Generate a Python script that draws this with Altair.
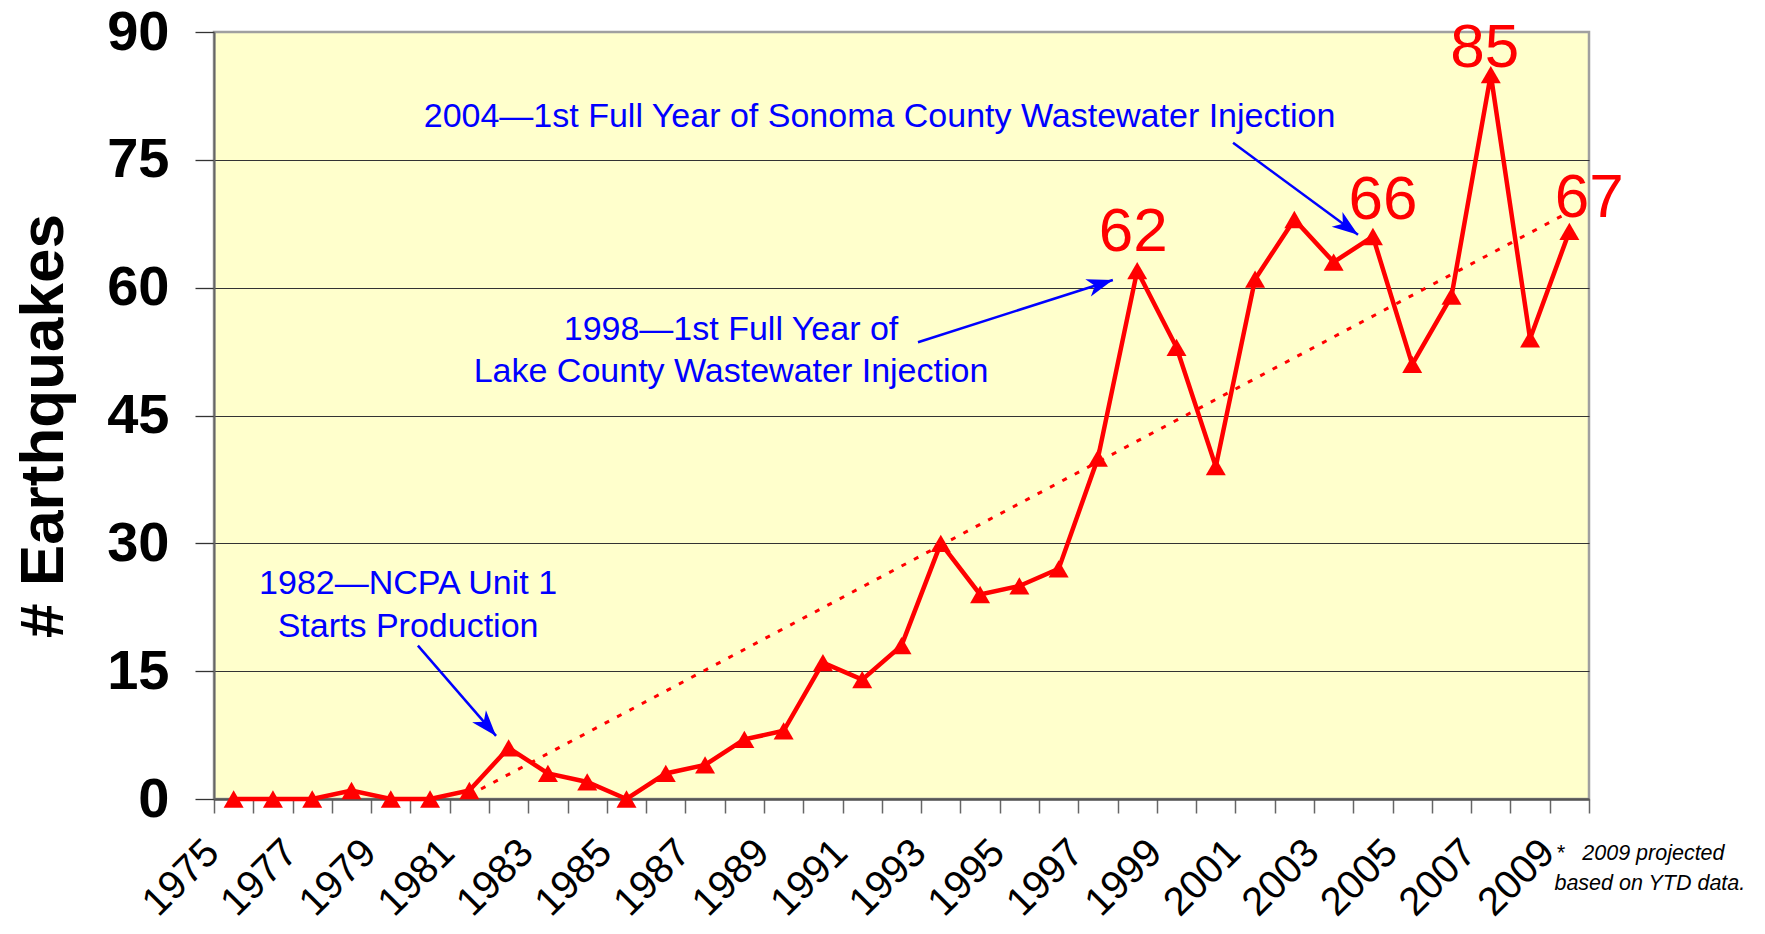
import math
import altair as alt
import pandas as pd

# ---------------- data ----------------
years = list(range(1975, 2010))
quakes = [0, 0, 0, 1, 0, 0, 1, 6, 3, 2, 0, 3, 4, 7, 8, 16, 14, 18, 30, 24,
          25, 27, 40, 62, 53, 39, 61, 68, 63, 66, 51, 59, 85, 54, 66.6]
labeled_years = [1998, 2004, 2007, 2009]
y_ticks = [0, 15, 30, 45, 60, 75, 90]

ann_text = [
    "2004\u20141st Full Year of Sonoma County Wastewater Injection",
    "1998\u20141st Full Year of",
    "Lake County Wastewater Injection",
    "1982\u2014NCPA Unit 1",
    "Starts Production",
]
foot_text = ["*\u00a0\u00a0\u00a02009 projected", "based on YTD data."]

# ---------------- layout (positions in data units / pixels) ----------------
W, H = 1375, 767
ann_x = [1991.44, 1987.66, 1987.66, 1979.44, 1979.44]
ann_y = [78.85, 53.86, 48.93, 24.06, 19.0]
arrow_x1 = [1979.69, 1992.42, 2000.44]
arrow_y1 = [18.0, 53.6, 77.0]
arrow_x2 = [1981.68, 1997.38, 2003.62]
arrow_y2 = [7.4, 60.9, 66.2]
foot_x = [2008.66, 2008.62]
foot_y = [-7.2, -10.7]
label_dx = [-4, 10, -6, 20]
label_dy = [-20, -18, -8, -14]

ppy = W / 35.0
ppu = H / 90.0
angles = []
for a, b, c, d in zip(arrow_x1, arrow_y1, arrow_x2, arrow_y2):
    dxp = (c - a) * ppy
    dyp = -(d - b) * ppu
    angles.append(math.degrees(math.atan2(dxp, -dyp)) % 360)

df = pd.DataFrame({"year": years, "quakes": quakes})
ann = pd.DataFrame({"year": ann_x, "quakes": ann_y, "t": ann_text})
arr = pd.DataFrame({"year": arrow_x1, "quakes": arrow_y1,
                    "x2": arrow_x2, "y2": arrow_y2})
heads = pd.DataFrame({"year": arrow_x2, "quakes": arrow_y2, "angle": angles})
foot = pd.DataFrame({"year": foot_x, "quakes": foot_y, "t": foot_text})

FONT = "Liberation Sans"
boundaries = [1974.5 + i for i in range(36)]

xscale = alt.Scale(domain=[1974.5, 2009.5], nice=False, zero=False)
yscale = alt.Scale(domain=[0, 90], nice=False, zero=False)

X = alt.X(
    "year:Q", scale=xscale, title=None,
    axis=alt.Axis(
        values=boundaries,
        labelExpr="(datum.value + 0.5) % 2 == 1 ? '' + (datum.value + 0.5) : ''",
        grid=False, domainColor="#555555", domainWidth=2.5,
        tickColor="#666666", tickSize=14, tickWidth=1.5,
        labelFont=FONT, labelFontSize=40, labelColor="black",
        labelAngle=315, labelAlign="right", labelBaseline="top",
        labelPadding=19, labelOffset=-16, labelOverlap=False,
        labelFlush=False, labelBound=False,
    ),
)
Y = alt.Y(
    "quakes:Q", scale=yscale, title="# Earthquakes",
    axis=alt.Axis(
        values=y_ticks, grid=True,
        gridColor=alt.condition("datum.value == 90", alt.value("#A0A0A0"), alt.value("#333333")),
        gridWidth=1.2, domainColor="#666666", domainWidth=2,
        tickColor="#333333", tickSize=19, tickWidth=1.3,
        labelFont=FONT, labelFontSize=56, labelFontWeight="bold", labelColor="black",
        labelPadding=26,
        titleFont=FONT, titleFontSize=62, titleFontWeight="bold", titleColor="black",
        titlePadding=31, titleY=H / 2 + 10,
    ),
)

base = alt.Chart(df)

trend = base.transform_regression("year", "quakes", method="linear").mark_line(
    color="#FF0000", strokeDash=[5, 9], strokeWidth=3, clip=True
).encode(x=X, y=Y)

line = base.mark_line(color="#FF0000", strokeWidth=4.5).encode(x=X, y=Y)

pts = base.mark_point(shape="triangle-up", filled=True, size=400, opacity=1,
                      color="#FF0000").encode(x=X, y=Y)

label_layers = []
for yr, ddx, ddy in zip(labeled_years, label_dx, label_dy):
    label_layers.append(
        base.transform_filter(alt.datum.year == yr).mark_text(
            font=FONT, fontSize=62, color="#FF0000", baseline="alphabetic",
            dx=ddx, dy=ddy
        ).encode(x=X, y=Y, text=alt.Text("quakes:Q", format=".0f"))
    )

ann_layer = alt.Chart(ann).mark_text(font=FONT, fontSize=34, color="#0000FF",
                                     baseline="alphabetic", align="center").encode(
    x=X, y=Y, text="t:N")

arrow_lines = alt.Chart(arr).mark_rule(color="#0000FF", strokeWidth=2.5).encode(
    x=X, y=Y, x2="x2:Q", y2="y2:Q")

arrow_heads = alt.Chart(heads).mark_point(
    shape="M0,0 L0.7,2 L0,1.45 L-0.7,2 Z", filled=True, size=676, opacity=1,
    color="#0000FF").encode(x=X, y=Y, angle=alt.Angle("angle:Q", scale=None))

foot_layer = alt.Chart(foot).mark_text(font=FONT, fontSize=21.5, fontStyle="italic",
                                       color="black", align="left",
                                       baseline="alphabetic").encode(
    x=X, y=Y, text="t:N")

chart = alt.layer(
    trend, line, pts, *label_layers, ann_layer, arrow_lines, arrow_heads, foot_layer
).properties(
    width=W, height=H,
    autosize=alt.AutoSizeParams(type="none"),
    padding={"left": 206, "top": 24, "right": 168, "bottom": 126},
).configure_view(
    fill="#FFFFCC", stroke="#A0A0A0", strokeWidth=2.5
)

chart.save("out.html", embed_options={"renderer": "svg", "actions": False})
